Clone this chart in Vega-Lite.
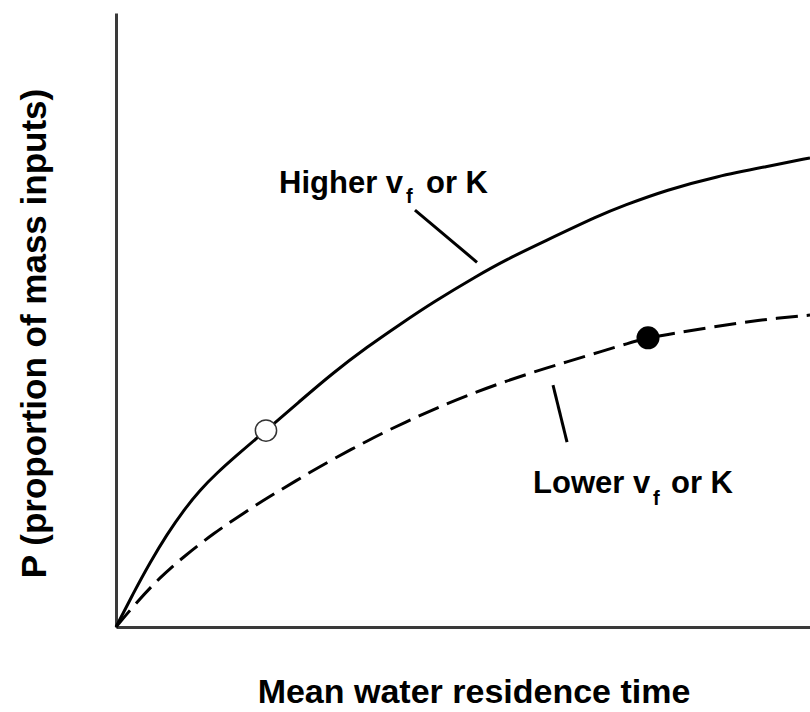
{
  "$schema": "https://vega.github.io/schema/vega-lite/v6.json",
  "width": 694,
  "height": 614,
  "autosize": {"type": "none"},
  "padding": {"left": 116, "top": 13, "right": 0, "bottom": 85},
  "background": "white",
  "config": {
    "view": {"stroke": null},
    "axis": {
      "domain": true,
      "domainColor": "#3a3a3a",
      "domainWidth": 3,
      "ticks": false,
      "labels": false,
      "grid": false,
      "titleFont": "Liberation Sans",
      "titleFontSize": 34,
      "titleFontWeight": "bold",
      "titleColor": "black",
      "titleBaseline": "alphabetic"
    }
  },
  "datasets": {
    "higher": [
      {"t": 0, "p": 0},
      {"t": 2.45, "p": 0.054},
      {"t": 4.9, "p": 0.105},
      {"t": 7.35, "p": 0.151},
      {"t": 9.8, "p": 0.191},
      {"t": 12.1, "p": 0.223},
      {"t": 14.55, "p": 0.251},
      {"t": 17.44, "p": 0.28},
      {"t": 20.32, "p": 0.308},
      {"t": 21.61, "p": 0.32},
      {"t": 26.51, "p": 0.368},
      {"t": 31.27, "p": 0.414},
      {"t": 36.17, "p": 0.456},
      {"t": 40.92, "p": 0.493},
      {"t": 45.68, "p": 0.529},
      {"t": 52.02, "p": 0.572},
      {"t": 56.34, "p": 0.599},
      {"t": 61.53, "p": 0.627},
      {"t": 69.74, "p": 0.671},
      {"t": 73.05, "p": 0.686},
      {"t": 79.39, "p": 0.712},
      {"t": 86.6, "p": 0.734},
      {"t": 93.8, "p": 0.75},
      {"t": 100, "p": 0.764}
    ],
    "lower": [
      {"t": 0, "p": 0},
      {"t": 3.03, "p": 0.041},
      {"t": 6.34, "p": 0.081},
      {"t": 9.8, "p": 0.115},
      {"t": 14.12, "p": 0.153},
      {"t": 18.44, "p": 0.186},
      {"t": 22.19, "p": 0.213},
      {"t": 26.08, "p": 0.239},
      {"t": 28.96, "p": 0.259},
      {"t": 36.6, "p": 0.306},
      {"t": 41.93, "p": 0.335},
      {"t": 46.25, "p": 0.357},
      {"t": 50.58, "p": 0.377},
      {"t": 55.33, "p": 0.397},
      {"t": 60.09, "p": 0.415},
      {"t": 64.99, "p": 0.432},
      {"t": 69.74, "p": 0.448},
      {"t": 73.78, "p": 0.462},
      {"t": 76.66, "p": 0.471},
      {"t": 80.84, "p": 0.479},
      {"t": 85.59, "p": 0.488},
      {"t": 90.35, "p": 0.496},
      {"t": 95.24, "p": 0.503},
      {"t": 100, "p": 0.508}
    ],
    "openPoint": [{"t": 21.61, "p": 0.32}],
    "filledPoint": [{"t": 76.66, "p": 0.471}],
    "leaders": [
      {"t": 43.08, "p": 0.679, "t2": 52.02, "p2": 0.594},
      {"t": 62.97, "p": 0.394, "t2": 64.99, "p2": 0.301}
    ],
    "labels": [
      {"t": 23.49, "p": 0.707, "text": "Higher v"},
      {"t": 44.67, "p": 0.707, "text": "or K"},
      {"t": 60.09, "p": 0.218, "text": "Lower v"},
      {"t": 79.97, "p": 0.218, "text": "or K"}
    ],
    "subscripts": [
      {"t": 41.79, "p": 0.69, "text": "f"},
      {"t": 77.38, "p": 0.199, "text": "f"}
    ]
  },
  "encoding": {
    "x": {
      "field": "t",
      "type": "quantitative",
      "scale": {"domain": [0, 100], "nice": false, "zero": false},
      "axis": {"title": "Mean water residence time", "titleX": 357.5, "titleY": 75, "titleAlign": "center"}
    },
    "y": {
      "field": "p",
      "type": "quantitative",
      "scale": {"domain": [0, 1], "nice": false, "zero": false},
      "axis": {"title": "P (proportion of mass inputs)", "titleX": -71, "titleY": 320, "titleAlign": "center", "titleAngle": 270, "titleFontSize": 35}
    }
  },
  "layer": [
    {
      "data": {"name": "higher"},
      "mark": {"type": "line", "color": "black", "strokeWidth": 3, "interpolate": "basis"}
    },
    {
      "data": {"name": "lower"},
      "mark": {"type": "line", "color": "black", "strokeWidth": 3, "strokeDash": [22, 9], "interpolate": "basis"}
    },
    {
      "data": {"name": "leaders"},
      "mark": {"type": "rule", "color": "black", "strokeWidth": 3},
      "encoding": {
        "x2": {"field": "t2"},
        "y2": {"field": "p2"}
      }
    },
    {
      "data": {"name": "openPoint"},
      "mark": {"type": "point", "shape": "circle", "size": 452, "filled": true, "fill": "white", "stroke": "#333333", "strokeWidth": 1.5, "opacity": 1}
    },
    {
      "data": {"name": "filledPoint"},
      "mark": {"type": "point", "shape": "circle", "size": 531, "filled": true, "color": "black", "opacity": 1}
    },
    {
      "data": {"name": "labels"},
      "mark": {"type": "text", "align": "left", "baseline": "alphabetic", "font": "Liberation Sans", "fontSize": 31, "fontWeight": "bold", "color": "black"},
      "encoding": {"text": {"field": "text"}}
    },
    {
      "data": {"name": "subscripts"},
      "mark": {"type": "text", "align": "left", "baseline": "alphabetic", "font": "Liberation Sans", "fontSize": 20, "fontWeight": "bold", "color": "black"},
      "encoding": {"text": {"field": "text"}}
    }
  ]
}
